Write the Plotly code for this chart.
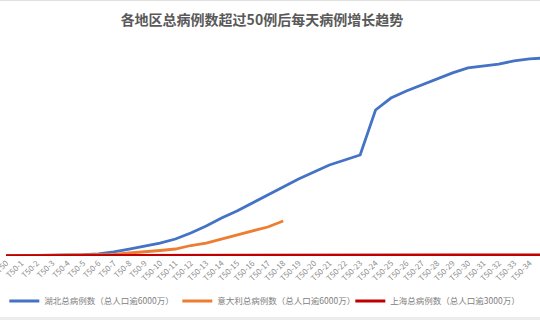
import plotly.graph_objects as go

categories = ["T50"] + [f"T50-{i}" for i in range(1, 36)]

hubei = [60, 110, 180, 260, 340, 450, 750, 1370, 2390, 3420, 4440, 5810, 7860,
         10260, 12990, 15390, 18120, 20860, 23590, 26330, 28720, 31110, 32820,
         34530, 49920, 54000, 56400, 58500, 60500, 62600, 64300, 65000, 65600,
         66700, 67400, 67700]

italy = [60, 90, 130, 170, 230, 300, 400, 510, 1030, 1370, 1880, 2390, 3590,
         4440, 5810, 7010, 8550, 9920, 11970]

shanghai = [60, 80, 100, 120, 140, 170, 200, 220, 240, 250, 260, 270, 280, 290,
            295, 300, 305, 310, 315, 320, 322, 325, 327, 330, 332, 333, 334, 335,
            336, 337, 338, 338, 339, 339, 340, 340]

names = ["湖北总病例数（总人口逾6000万）",
         "意大利总病例数（总人口逾6000万）",
         "上海总病例数（总人口逾3000万）"]
colors = ["#4472C4", "#ED7D31", "#C00000"]

fig = go.Figure()
fig.add_trace(go.Scatter(x=categories[:len(hubei)], y=hubei, mode="lines",
                         name=names[0], line=dict(color=colors[0], width=2.8)))
fig.add_trace(go.Scatter(x=categories[:len(italy)], y=italy, mode="lines",
                         name=names[1], line=dict(color=colors[1], width=2.8)))
fig.add_trace(go.Scatter(x=categories[:len(shanghai)], y=shanghai, mode="lines",
                         name=names[2], line=dict(color=colors[2], width=3.2)))

font_family = "Noto Sans CJK SC, Noto Sans, sans-serif"

fig.update_layout(
    width=540, height=320,
    margin=dict(l=0, r=0, t=22, b=64, autoexpand=False),
    paper_bgcolor="white", plot_bgcolor="white",
    font=dict(family=font_family, color="#808080", size=8),
    title=dict(text="<b>各地区总病例数超过50例后每天病例增长趋势</b>",
               x=0.485, xanchor="center", y=1 - 20 / 320, yanchor="middle",
               yref="container",
               font=dict(family=font_family, size=14, color="#595959")),
    xaxis=dict(type="category", categoryorder="array", categoryarray=categories,
               tickmode="array", tickvals=categories, ticktext=categories,
               range=[-0.39, 34.68], showgrid=False, zeroline=False,
               showline=False, ticks="", tickangle=-45, automargin=False,
               tickfont=dict(size=8, color="#8c8c8c")),
    yaxis=dict(range=[0, 80000], visible=False, showgrid=False, zeroline=False,
               automargin=False),
    showlegend=True,
    legend=dict(orientation="h", x=0.008, xanchor="left",
                y=(256 - 301) / 234, yanchor="middle",
                entrywidth=128, entrywidthmode="pixels",
                font=dict(size=8.5, color="#808080", family=font_family),
                bgcolor="rgba(0,0,0,0)"),
    shapes=[
        dict(type="line", xref="paper", yref="paper", x0=0, x1=1,
             y0=1 + 21.5 / 234, y1=1 + 21.5 / 234,
             line=dict(color="#e0e0e0", width=1)),
        dict(type="rect", xref="paper", yref="paper", x0=0, x1=1,
             y0=-(317 - 256) / 234, y1=-(320 - 256) / 234,
             fillcolor="#ececec", line=dict(width=0)),
    ],
)

fig.write_html("out.html")
